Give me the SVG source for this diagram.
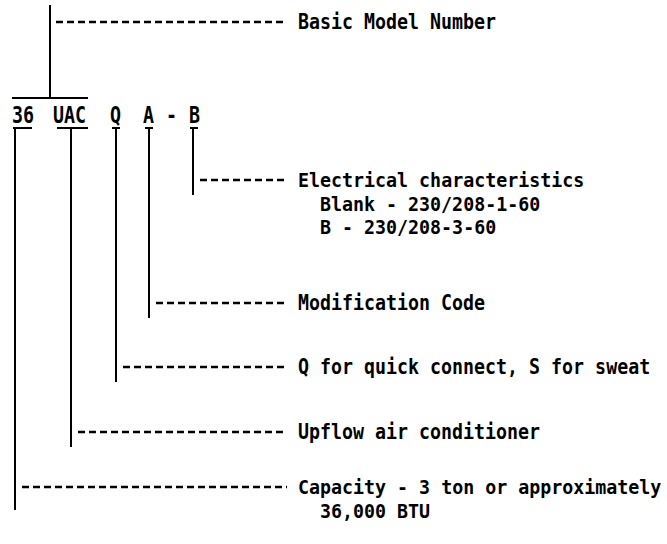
<svg xmlns="http://www.w3.org/2000/svg" width="667" height="544" viewBox="0 0 667 544">
<style>
.t{font-family:"DejaVu Sans Mono","Liberation Mono",monospace;font-size:18.3px;font-weight:bold;fill:#000}
.v{stroke:#000;stroke-width:2;fill:none}
.d{stroke:#000;stroke-width:2.5;stroke-dasharray:7 4;fill:none}
</style>
<rect width="667" height="544" fill="#fff"/>
<g id="connectors">
<line class="v" x1="50" y1="5" x2="50" y2="98"/>
<line class="v" x1="12" y1="98" x2="88" y2="98"/>
<line class="d" x1="56" y1="22" x2="287" y2="22"/>
<line class="v" x1="13" y1="128" x2="32" y2="128"/>
<line class="v" x1="57" y1="128" x2="88" y2="128"/>
<line class="v" x1="112" y1="128" x2="120" y2="128"/>
<line class="v" x1="145" y1="128" x2="153" y2="128"/>
<line class="v" x1="190" y1="128" x2="198" y2="128"/>
<line class="v" x1="15" y1="128" x2="15" y2="510"/>
<line class="v" x1="71" y1="128" x2="71" y2="447"/>
<line class="v" x1="116" y1="128" x2="116" y2="382"/>
<line class="v" x1="149" y1="128" x2="149" y2="318"/>
<line class="v" x1="193" y1="128" x2="193" y2="195"/>
<line class="d" x1="200" y1="180" x2="287" y2="180"/>
<line class="d" x1="156" y1="303" x2="287" y2="303"/>
<line class="d" x1="123" y1="367" x2="287" y2="367"/>
<line class="d" x1="78" y1="432" x2="287" y2="432"/>
<line class="d" x1="22" y1="487" x2="287" y2="487"/>
</g>
<g id="code">
<text class="t" transform="translate(12,123) scale(1,1.25)">36</text>
<text class="t" transform="translate(53,123) scale(1,1.25)">UAC</text>
<text class="t" transform="translate(110,123) scale(1,1.25)">Q</text>
<text class="t" transform="translate(143,123) scale(1,1.25)">A</text>
<text class="t" transform="translate(166,123) scale(1,1.25)">-</text>
<text class="t" transform="translate(189,123) scale(1,1.25)">B</text>
</g>
<g id="basic"><text class="t" transform="translate(298,29) scale(1,1.12)">Basic Model Number</text></g>
<g id="electrical">
<text class="t" transform="translate(298,187) scale(1,1.05)">Electrical characteristics</text>
<text class="t" transform="translate(320,210.5) scale(1,1.05)">Blank - 230/208-1-60</text>
<text class="t" transform="translate(320,234) scale(1,1.05)">B - 230/208-3-60</text>
</g>
<g id="modification"><text class="t" transform="translate(298,310) scale(1,1.12)">Modification Code</text></g>
<g id="connect"><text class="t" transform="translate(298,374) scale(1,1.12)">Q for quick connect, S for sweat</text></g>
<g id="upflow"><text class="t" transform="translate(298,439) scale(1,1.12)">Upflow air conditioner</text></g>
<g id="capacity">
<text class="t" transform="translate(298,494) scale(1,1.05)">Capacity - 3 ton or approximately</text>
<text class="t" transform="translate(320,518) scale(1,1.05)">36,000 BTU</text>
</g>
</svg>
